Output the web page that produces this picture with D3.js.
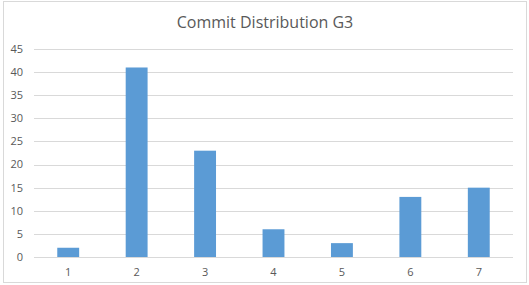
<!DOCTYPE html>
<html>
<head>
<meta charset="utf-8">
<script src="https://cdn.jsdelivr.net/npm/d3@7"></script>
<style>
  body { margin: 0; background: #fff; }
  text { font-family: "Open Sans", "Liberation Sans", sans-serif; fill: #595959; }
</style>
</head>
<body>
<div class="chart"></div>
<script>
const categories = ["1", "2", "3", "4", "5", "6", "7"];
const commits = [2, 41, 23, 6, 3, 13, 15];
const yTicks = [0, 5, 10, 15, 20, 25, 30, 35, 40, 45];

const width = 529, height = 285;
const margin = { top: 49, right: 16, bottom: 28, left: 34 };

const svg = d3.select(".chart").append("svg")
  .attr("width", width)
  .attr("height", height);

// chart area border
svg.append("rect")
  .attr("x", 3.5).attr("y", 1.5)
  .attr("width", 523).attr("height", 281)
  .attr("fill", "#fff")
  .attr("stroke", "#d9d9d9");

const data = categories.map((c, i) => ({ cat: c, val: commits[i] }));

const x = d3.scaleBand()
  .domain(categories)
  .range([margin.left, width - margin.right])
  .paddingInner(0.68)
  .paddingOuter(0.34);

const y = d3.scaleLinear()
  .domain([0, 45])
  .range([height - margin.bottom, margin.top]);

// gridlines
svg.append("g")
  .selectAll("line")
  .data(yTicks)
  .enter()
  .append("line")
  .attr("x1", margin.left)
  .attr("x2", width - margin.right)
  .attr("y1", d => Math.round(y(d)) + 0.5)
  .attr("y2", d => Math.round(y(d)) + 0.5)
  .attr("stroke", "#d9d9d9")
  .attr("stroke-width", 1);

// y labels
svg.append("g")
  .selectAll("text")
  .data(yTicks)
  .enter()
  .append("text")
  .attr("x", 23)
  .attr("y", d => y(d))
  .attr("dy", "0.35em")
  .attr("text-anchor", "end")
  .attr("font-size", "11px")
  .text(d => d);

// bars
svg.append("g")
  .selectAll("rect")
  .data(data)
  .enter()
  .append("rect")
  .attr("x", d => x(d.cat))
  .attr("width", x.bandwidth())
  .attr("y", d => y(d.val))
  .attr("height", d => y(0) - y(d.val))
  .attr("fill", "#5b9bd5");

// x labels
svg.append("g")
  .selectAll("text")
  .data(data)
  .enter()
  .append("text")
  .attr("x", d => x(d.cat) + x.bandwidth() / 2)
  .attr("y", height - margin.bottom + 19)
  .attr("text-anchor", "middle")
  .attr("font-size", "11px")
  .text(d => d.cat);

svg.append("text")
  .attr("x", 265)
  .attr("y", 28)
  .attr("text-anchor", "middle")
  .attr("font-size", "16px")
  .text("Commit Distribution G3");
</script>
</body>
</html>
